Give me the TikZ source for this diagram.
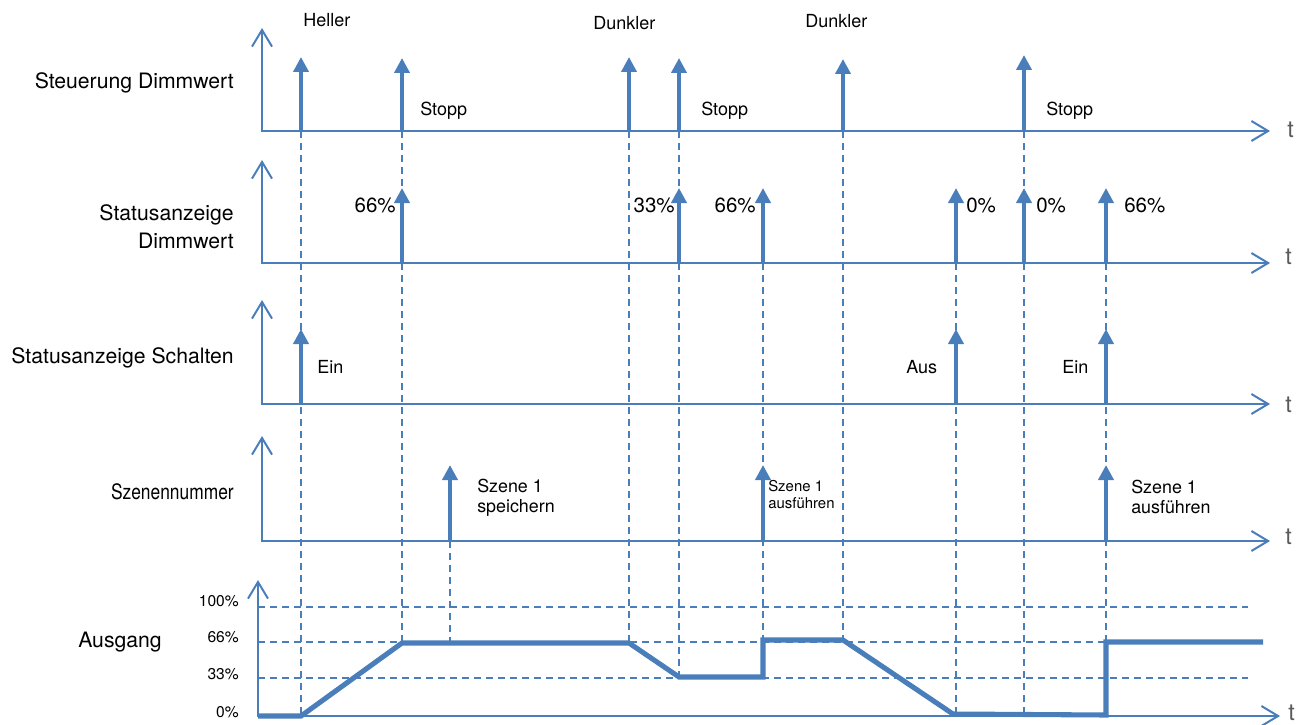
\documentclass[tikz,border=0pt]{standalone}
\usepackage{fontspec}
\setmainfont{TeX Gyre Heros}
\usetikzlibrary{arrows.meta}
\definecolor{lb}{HTML}{4A7EBB}
\definecolor{tg}{HTML}{5A5A5A}
\begin{document}
\begin{tikzpicture}[x=0.75pt,y=-0.75pt,
  axis/.style={draw=lb, line width=1.5pt, line join=miter,
    arrows={Straight Barb[length=12.5pt,width=15pt,line width=1.5pt]-Straight Barb[length=12.5pt,width=15pt,line width=1.5pt]}},
  evarrow/.style={draw=lb, line width=3pt, -{Triangle[length=11.25pt,width=11.25pt]}},
  guide/.style={draw=lb, line width=1.1pt, dash pattern=on 5.6pt off 3.4pt},
  outline/.style={draw=lb, line width=3.8pt, line join=miter},
  biglbl/.style={font=\fontsize{15.9}{20.3}\selectfont, inner sep=0pt},
  evlbl/.style={font=\fontsize{13.5}{16}\selectfont, inner sep=0pt, anchor=base west},
  pctlbl/.style={font=\fontsize{15.4}{18}\selectfont, inner sep=0pt},
  szlbl/.style={font=\fontsize{13.4}{14.8}\selectfont, inner sep=0pt, align=left, anchor=base west},
  szsmall/.style={font=\fontsize{11.2}{12.75}\selectfont, inner sep=0pt, align=left, anchor=base west},
  scalelbl/.style={font=\fontsize{11.7}{14}\selectfont, inner sep=0pt, anchor=base east},
  tlbl/.style={font=\fontsize{17.5}{20}\selectfont, text=tg, inner sep=0pt, anchor=west}]
\useasboundingbox (0,0) rectangle (1305,724);

% ---------- dashed guide lines ----------
\foreach \n/\x/\ya/\yb in {g1/301/131/716, g2/402/131/643, g3/450/541/643, g4/629/131/643,
    g5/679/131/677, g6/763/263/640, g7/843/131/640, g8/956/263/714, g9/1024/131/715, g10/1106/263/642} {
  \coordinate (\n a) at (\x,\ya);
  \coordinate (\n b) at (\x,\yb);
  \draw[guide] (\n a) -- (\n b);
}
\foreach \n/\y in {h100/607, h66/642, h33/678} {
  \coordinate (\n a) at (258,\y);
  \coordinate (\n b) at (1248,\y);
  \draw[guide] (\n a) -- (\n b);
}

% ---------- axes ----------
\foreach \n/\xo/\b/\t/\xe in {r1/262/131/28/1270, r2/262/263/160/1270, r3/262/404/300/1270,
    r4/262/541/436/1270, r5/258/716/580/1280} {
  \coordinate (\n o) at (\xo,\b);
  \coordinate (\n y) at (\xo,\t);
  \coordinate (\n x) at (\xe,\b);
  \draw[axis] (\n y) -- (\n o) -- (\n x);
}

% ---------- event arrows ----------
\foreach \n/\x/\b/\t in {a11/301/131/57, a12/402/131/58, a14/629/131/57, a15/679/131/58, a17/843/131/59, a19/1024/131/55,
    a22/402/263/188, a25/679/263/188, a26/763/263/188, a28/956/263/188, a29/1024/263/188, a210/1106/263/188,
    a31/301/404/329, a38/956/404/329, a310/1106/404/329,
    a43/450/541/465, a46/763/541/465, a410/1106/541/465} {
  \coordinate (\n b) at (\x,\b);
  \coordinate (\n t) at (\x,\t);
  \draw[evarrow] (\n b) -- (\n t);
}

% ---------- output curve ----------
\coordinate (o0) at (258,716);
\coordinate (o1) at (301,716);
\coordinate (o2) at (402,643);
\coordinate (o3) at (629,643);
\coordinate (o4) at (679,677);
\coordinate (o5) at (763,677);
\coordinate (o6) at (763,640);
\coordinate (o7) at (843,640);
\coordinate (o8) at (953,714);
\coordinate (o9) at (1106,715);
\coordinate (o10) at (1106,642);
\coordinate (o11) at (1263,642);
\draw[outline] (o0) -- (o1) -- (o2) -- (o3) -- (o4) -- (o5) -- (o6) -- (o7) -- (o8) -- (o9) -- (o10) -- (o11);

% ---------- left labels ----------
\node[biglbl, anchor=base east] (l1) at (234,89) {Steuerung Dimmwert};
\node[biglbl, anchor=base east, align=right] (l2) at (234,248) {Statusanzeige\\Dimmwert};
\node[biglbl, anchor=base east] (l3) at (234,363) {Statusanzeige Schalten};
\node[biglbl, anchor=base east] (l4) at (234,499) {\scalebox{0.82}[1]{Szenennummer}};
\node[biglbl, anchor=base west] (l5) at (78,647) {Ausgang};

% ---------- row 1 labels ----------
\node[evlbl] (e1) at (303,27) {Heller};
\node[evlbl] (e2) at (593,30) {Dunkler};
\node[evlbl] (e3) at (805,28) {Dunkler};
\node[evlbl] (e4) at (420,115) {Stopp};
\node[evlbl] (e5) at (701,115) {Stopp};
\node[evlbl] (e6) at (1046,115) {Stopp};

% ---------- row 2 labels ----------
\node[pctlbl, anchor=base east] (p1) at (396,212) {66\%};
\node[pctlbl, anchor=base east] (p2) at (675,212) {33\%};
\node[pctlbl, anchor=base east] (p3) at (756,212) {66\%};
\node[pctlbl, anchor=base west] (p4) at (966,212) {0\%};
\node[pctlbl, anchor=base west] (p5) at (1036,212) {0\%};
\node[pctlbl, anchor=base west] (p6) at (1124,212) {66\%};

% ---------- row 3 labels ----------
\node[evlbl] (s1) at (317,373) {Ein};
\node[evlbl] (s2) at (906,373) {Aus};
\node[evlbl] (s3) at (1062,373) {Ein};

% ---------- row 4 labels ----------
\node[szlbl] (z1) at (477,512) {Szene 1\\speichern};
\node[szsmall] (z2) at (768,508) {Szene 1\\ausführen};
\node[szlbl] (z3) at (1131,513) {Szene 1\\ausführen};

% ---------- scale labels ----------
\node[scalelbl] (c100) at (239,606) {100\%};
\node[scalelbl] (c66) at (239,642) {66\%};
\node[scalelbl] (c33) at (239,679) {33\%};
\node[scalelbl] (c0) at (239,717) {0\%};

% ---------- t labels ----------
\node[tlbl] (t1) at (1287,130) {t};
\node[tlbl] (t2) at (1285,257) {t};
\node[tlbl] (t3) at (1285,405) {t};
\node[tlbl] (t4) at (1285,537) {t};
\node[tlbl] (t5) at (1288,713) {t};
\end{tikzpicture}
\end{document}
